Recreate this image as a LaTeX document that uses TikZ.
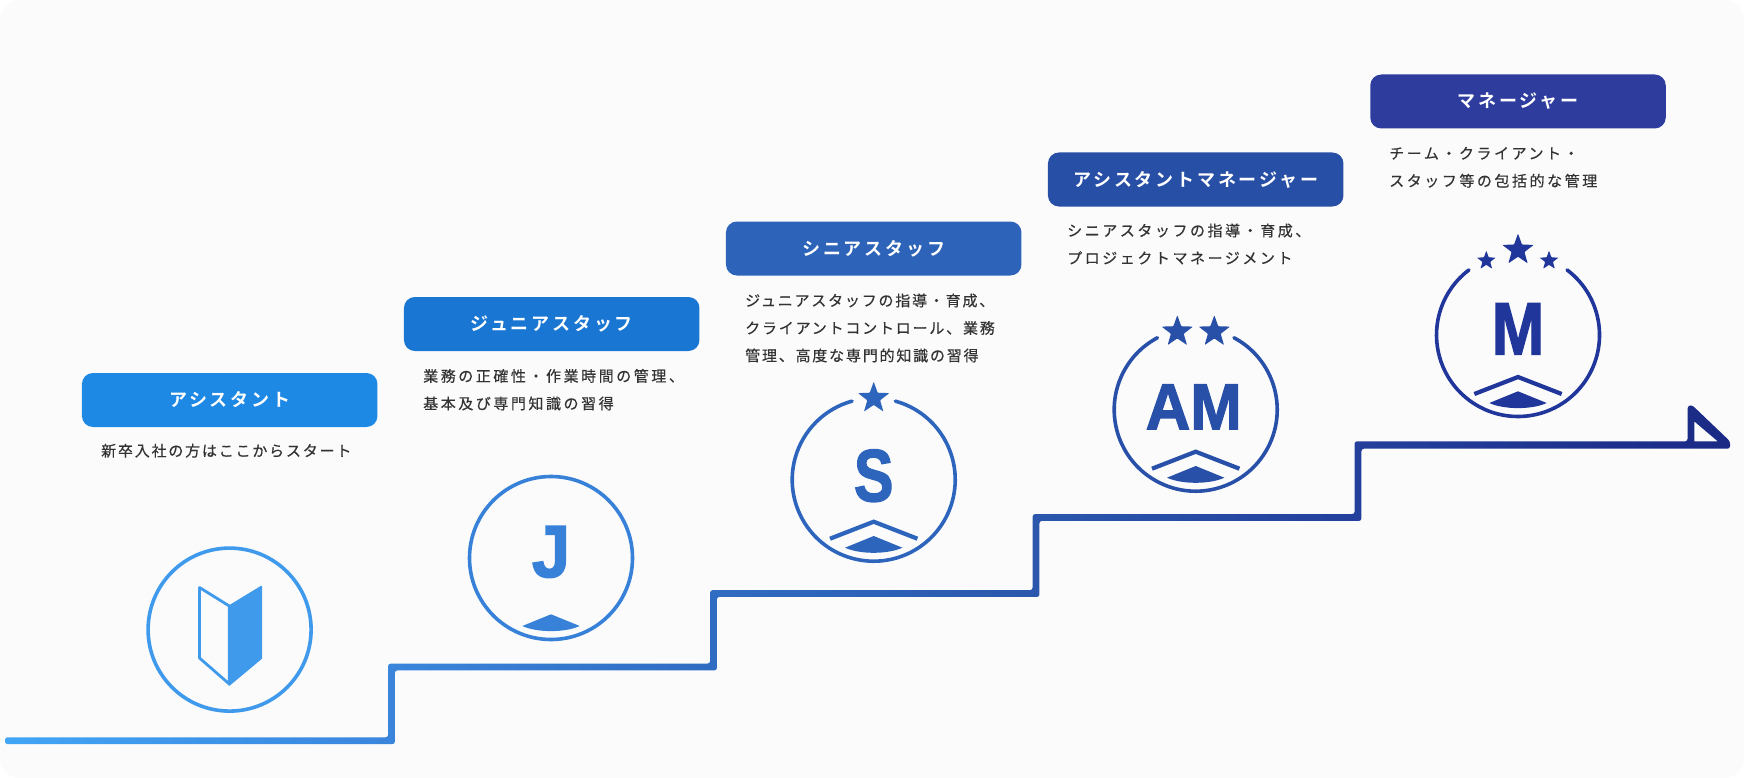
\documentclass[tikz,border=0pt]{standalone}
\usepackage{fontspec}
\usepackage{graphicx}
\usetikzlibrary{shapes.geometric}
\newfontfamily\jpbody[LetterSpace=12,FakeBold=0.45]{Noto Sans CJK JP}
\newfontfamily\jpbodywide[LetterSpace=17,FakeBold=0.45]{Noto Sans CJK JP}
\newfontfamily\jptitle[LetterSpace=15.5]{Noto Sans CJK JP Bold}
\newfontfamily\logofont[FakeBold=2]{Liberation Sans Bold}
\definecolor{bgc}{HTML}{FBFBFC}
\definecolor{txt}{HTML}{333333}
\definecolor{boxa}{HTML}{1E88E5}
\definecolor{boxb}{HTML}{1976D2}
\definecolor{boxc}{HTML}{2D63B8}
\definecolor{boxd}{HTML}{284FA6}
\definecolor{boxe}{HTML}{2E3C9E}
\definecolor{icona}{HTML}{3F9AEB}
\definecolor{iconb}{HTML}{3781D8}
\definecolor{iconc}{HTML}{2E65BC}
\definecolor{icond}{HTML}{2850A9}
\definecolor{icone}{HTML}{20369A}
\definecolor{stopa}{HTML}{42A5F5}
\definecolor{stopb}{HTML}{3A86DC}
\definecolor{stopc}{HTML}{2F6CC2}
\definecolor{stopd}{HTML}{2A58AD}
\definecolor{stope}{HTML}{24409C}
\definecolor{stopf}{HTML}{1A2A85}
\pgfdeclarehorizontalshading{stairs}{100bp}{
 color(0bp)=(stopa); color(25bp)=(stopa); color(36bp)=(stopb); color(45.5bp)=(stopc);
 color(54.5bp)=(stopd); color(64bp)=(stope); color(75bp)=(stopf); color(100bp)=(stopf)}
\tikzset{
 badge/.style={rounded corners=11pt,minimum width=295.5pt,minimum height=54pt,inner sep=0,text=white,font=\jptitle\fontsize{18}{20}\selectfont},
 body/.style={anchor=west,inner sep=0,align=left,text=txt,font=\jpbody\fontsize{15}{27.5}\selectfont},
 bodywide/.style={body,font=\jpbodywide\fontsize{15}{27.5}\selectfont},
 ring/.style={line width=3.6pt,line cap=round},
 chev/.style={line width=4.2pt,line join=miter},
 logo/.style={anchor=base,inner sep=0},
 bigstar/.style={star,star points=5,star point ratio=2.45,inner sep=0,minimum size=#1,rounded corners=.8pt,draw=none},
}
% lower mark of each emblem
\newcommand\lowermark[1]{\fill[#1] (-28.7,68) -- (0,56.3) -- (28.7,68) .. controls (14,74.8) and (-14,74.8) .. cycle;}
\newcommand\chevron[1]{\draw[chev,#1] (-43.7,59) -- (0,42) -- (43.7,59);}
\begin{document}
\begin{tikzpicture}[x=1pt,y=-1pt]
\useasboundingbox (0,0) rectangle (1744,778);
\fill[bgc,rounded corners=20pt] (0,0) rectangle (1744,778);

% stairs with the closing triangle
\shade[shading=stairs,even odd rule]
 [rounded corners=2.5pt]
 (5,737.3) -- (388.1,737.3) -- (388.1,663.6) -- (710.1,663.6) -- (710.1,590.1) -- (1032.6,590.1) -- (1032.6,514.1) -- (1354.6,514.1) -- (1354.6,441.3) -- (1687.6,441.3) -- (1687.6,406) -- (1692,405) -- (1730,441.3) -- (1730,448.7)
 -- (1361.4,448.7) -- (1361.4,520.9) -- (1039.4,520.9) -- (1039.4,596.9) -- (716.9,596.9) -- (716.9,670.4) -- (394.9,670.4) -- (394.9,744.1) -- (5,744.1) -- cycle
 [sharp corners] (1694.4,441.3) -- (1694.4,421.5) -- (1717.7,441.3) -- cycle;

% badges
\node[badge,fill=boxa] (b1) at (229.7,400) {アシスタント};
\node[badge,fill=boxb] (b2) at (551.7,324) {ジュニアスタッフ};
\node[badge,fill=boxc] (b3) at (873.7,248.5) {シニアスタッフ};
\node[badge,fill=boxd] (b4) at (1195.7,179.5) {アシスタントマネージャー};
\node[badge,fill=boxe] (b5) at (1518,101.5) {マネージャー};

% descriptions
\node[body] (t1) at (101,450.7) {新卒入社の方はここからスタート};
\node[bodywide] (t2) at (423,389.7) {業務の正確性・作業時間の管理、\\基本及び専門知識の習得};
\node[body] (t3) at (745,328) {ジュニアスタッフの指導・育成、\\クライアントコントロール、業務\\管理、高度な専門的知識の習得};
\node[bodywide] (t4) at (1067,244) {シニアスタッフの指導・育成、\\プロジェクトマネージメント};
\node[bodywide] (t5) at (1389,167.3) {チーム・クライアント・\\スタッフ等の包括的な管理};

% assistant emblem
\draw[ring,icona] (229.6,629.6) circle[radius=81.5];
\draw[icona,line width=2.8pt,line join=round,fill=bgc] (229.3,606) -- (199.5,587.5) -- (199.5,658) -- (229.3,684) -- cycle;
\fill[icona,draw=icona,line width=1.5pt,line join=round] (229.3,606) -- (261.3,586.5) -- (261.3,658.3) -- (229.3,685) -- cycle;

% junior emblem
\begin{scope}[shift={(551,558)}]
\draw[ring,iconb] (0,0) circle[radius=81.5];
\node[logo,text=iconb,font=\logofont\fontsize{74}{74}\selectfont] (lj) at (0,19) {\scalebox{.93}[1]{J}};
\lowermark{iconb}
\end{scope}

% senior emblem
\begin{scope}[shift={(873.7,479.7)}]
\draw[ring,iconc] (0,0) ++(-74.6:81.5) arc[start angle=-74.6,end angle=254.6,radius=81.5];
\node[bigstar=33pt,fill=iconc] (sa) at (0,-81.5) {};
\node[logo,text=iconc,font=\logofont\fontsize{74}{74}\selectfont] (ls) at (0,21.5) {\scalebox{.8}[1]{S}};
\chevron{iconc}
\lowermark{iconc}
\end{scope}

% assistant manager emblem
\begin{scope}[shift={(1195.7,409.7)}]
\draw[ring,icond] (0,0) ++(-62:81.5) arc[start angle=-62,end angle=242,radius=81.5];
\node[bigstar=33pt,fill=icond] (sb) at (-18.4,-78) {};
\node[bigstar=33pt,fill=icond] (sc) at (18.6,-78) {};
\node[logo,text=icond,font=\logofont\fontsize{65}{65}\selectfont] (lam) at (-2,19.6) {\scalebox{.95}[1]{AM}};
\chevron{icond}
\lowermark{icond}
\end{scope}

% manager emblem
\begin{scope}[shift={(1518,335)}]
\draw[ring,icone] (0,0) ++(-53:81.5) arc[start angle=-53,end angle=233,radius=81.5];
\node[bigstar=33pt,fill=icone] (sd) at (0,-85) {};
\node[bigstar=20pt,fill=icone] (se) at (-31.7,-74.3) {};
\node[bigstar=20pt,fill=icone] (sf) at (31,-74.3) {};
\node[logo,text=icone,font=\logofont\fontsize{74}{74}\selectfont] (lm) at (0,19.3) {\scalebox{.85}[1]{M}};
\chevron{icone}
\lowermark{icone}
\end{scope}
\end{tikzpicture}
\end{document}
